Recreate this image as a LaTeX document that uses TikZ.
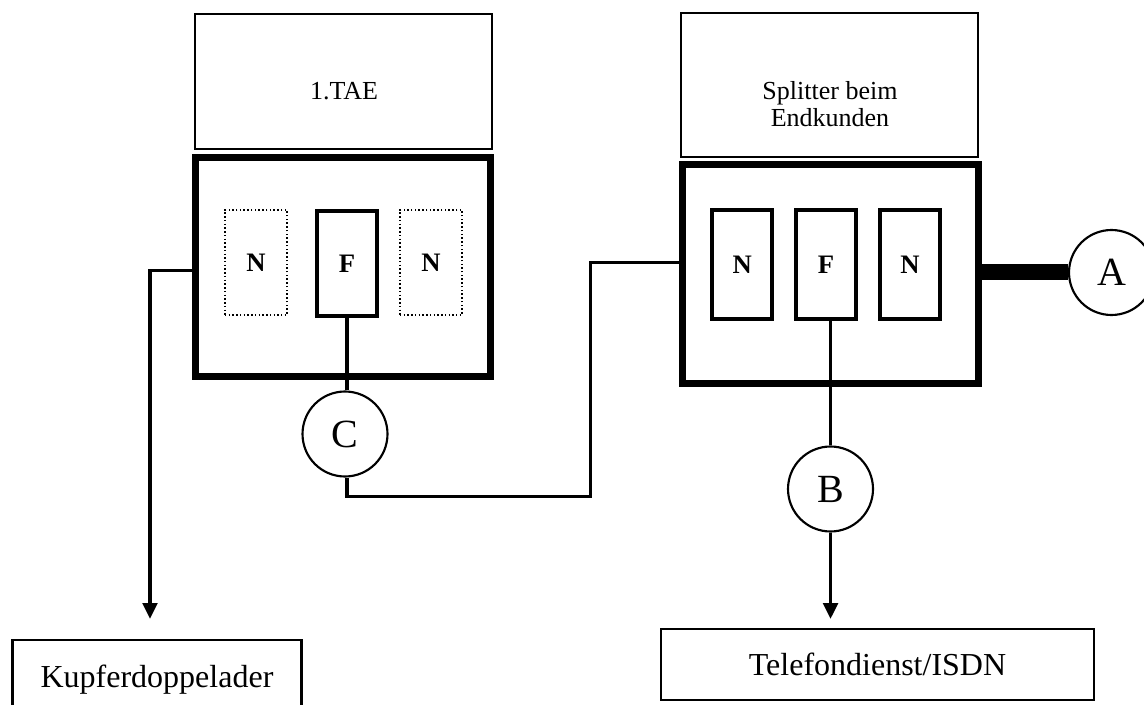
\documentclass[tikz,border=0pt]{standalone}
\usepackage{fontspec}
\setmainfont{Liberation Serif}
\usetikzlibrary{arrows.meta}
\begin{document}
\begin{tikzpicture}[x=0.75pt,y=-0.75pt,
  thinbox/.style={draw,line width=1.6pt,inner sep=0pt},
  housing/.style={draw,line width=4.6pt,inner sep=0pt},
  letterfont/.style={font=\fontsize{20}{22}\selectfont\bfseries},
  module/.style={draw,line width=3pt,inner sep=0pt,minimum width=45pt,minimum height=81.75pt,letterfont},
  ghost/.style={draw,line width=1.3pt,dash pattern=on 1.1pt off 1.7pt,inner sep=0pt,minimum width=46.5pt,minimum height=78.75pt,letterfont},
  port/.style={draw,circle,line width=1.6pt,minimum size=63.75pt,inner sep=0pt,font=\fontsize{30}{36}\selectfont},
  smalltxt/.style={inner sep=0pt,font=\fontsize{19.5}{20.25}\selectfont},
  bigtxt/.style={font=\fontsize{24}{28}\selectfont},
  wire/.style={line width=2.6pt},
  feed/.style={wire,-{Triangle[length=12pt,width=11pt]}}
]
\useasboundingbox (0,0) rectangle (1144,705);
\clip (0,0) rectangle (1144,705);

% left: 1.TAE
\node[thinbox,minimum width=222.75pt,minimum height=101.25pt] (tae) at (343.5,81.5) {};
\node[smalltxt] (taeT) at (344,91.5) {1.TAE};
\node[housing,minimum width=221.25pt,minimum height=164.25pt] (lbox) at (343,267) {};
\node[ghost] (lN1) at (256,262.5) {N};
\node[module,minimum height=78.75pt] (lF) at (347,263.5) {F};
\node[ghost] (lN2) at (431,262.5) {N};
\node[port] (C) at (345,434) {C};
\node[thinbox,bigtxt,minimum width=216.75pt,minimum height=60pt] (kup) at (157,680) {Kupferdoppelader};

% right: splitter
\node[thinbox,minimum width=222.75pt,minimum height=108pt] (spl) at (829.5,85) {};
\node[smalltxt,align=center] (splT) at (830,104) {Splitter beim\\Endkunden};
\node[housing,minimum width=222pt,minimum height=164.25pt] (rbox) at (830.5,274) {};
\node[module] (rN1) at (742.3,265) {N};
\node[module] (rF) at (826,265) {F};
\node[module] (rN2) at (910,265) {N};
\node[port] (A) at (1111.5,272.5) {A};
\node[port] (B) at (830.5,489) {B};
\node[thinbox,bigtxt,minimum width=324.75pt,minimum height=53.25pt] (tel) at (877.5,664.5) {Telefondienst/ISDN};

% connectors
\coordinate (lbend) at (150,270.7);
\coordinate (ltip) at (150,619);
\draw[feed] (lbend -| lbox.west) -- (lbend) -- (ltip);

\draw[wire] (lF.south) -- (lF.south |- C.north);

\coordinate (rbend1) at (590.7,262.7);
\coordinate (rbend2) at (590.7,496.7);
\draw[wire] (rbend1 -| rbox.west) -- (rbend1) -- (rbend2) -- (rbend2 -| lF.south) -- (lF.south |- C.south);

\draw[line width=12pt] (rbox.east |- A) -- (A.west);

\draw[wire] (rF.south -| B) -- (B.north);
\coordinate (rtip) at (829,619);
\draw[feed] (B.south) -- (B.south |- rtip);
\end{tikzpicture}
\end{document}
